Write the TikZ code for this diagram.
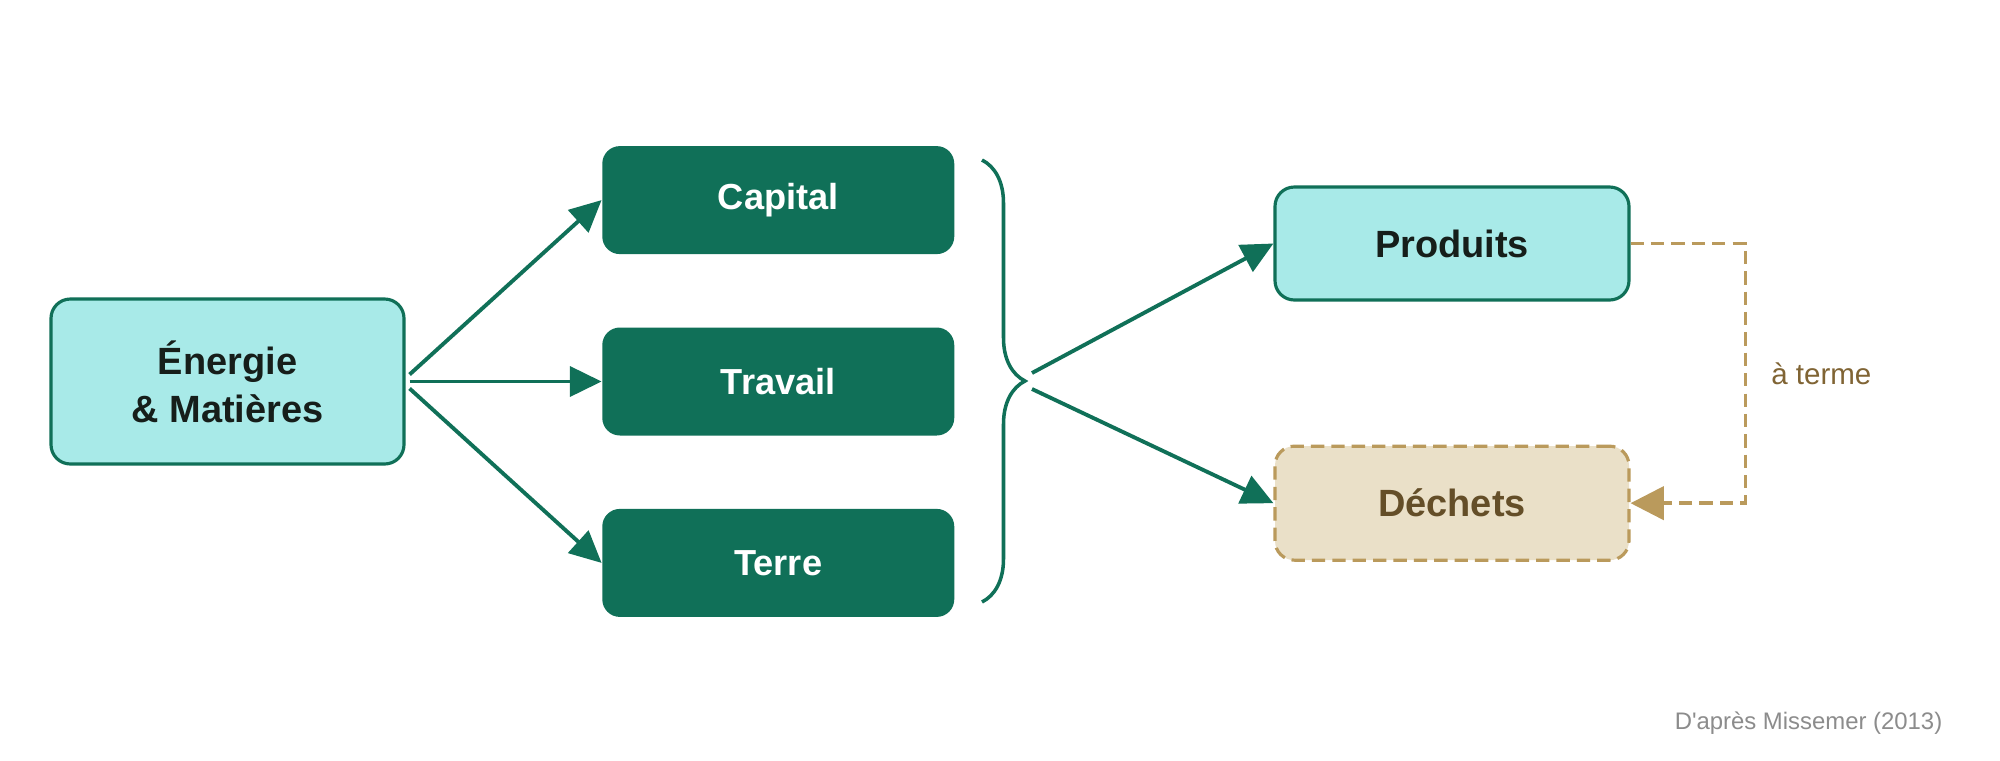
\documentclass[tikz,border=0pt]{standalone}
\usepackage{fontspec}
\setmainfont{Liberation Sans}
\newfontfamily\plainfont{Liberation Sans}
\usetikzlibrary{arrows.meta, positioning, decorations.pathreplacing}
\definecolor{colGreen}{RGB}{16,112,88}
\definecolor{colCyan}{RGB}{168,234,232}
\definecolor{colInk}{RGB}{22,30,26}
\definecolor{colSand}{RGB}{234,224,200}
\definecolor{colSandLine}{RGB}{186,154,92}
\definecolor{colSandInk}{RGB}{100,78,40}
\definecolor{colNote}{RGB}{128,100,52}
\definecolor{colSource}{RGB}{140,140,140}
\tikzset{
  inputBox/.style={
    rectangle, rounded corners=5.5pt,
    draw=colGreen, line width=0.9pt,
    fill=colCyan, text=colInk,
    font=\bfseries\fontsize{10.8}{13.7}\selectfont,
    align=center, inner sep=0pt
  },
  factorBox/.style={
    rectangle, rounded corners=5pt,
    fill=colGreen, text=white,
    font=\bfseries\fontsize{10.3}{12}\selectfont,
    inner sep=0pt, minimum width=35.2mm, minimum height=10.8mm
  },
  wasteBox/.style={
    rectangle, rounded corners=5.5pt,
    draw=colSandLine, line width=0.9pt, dash pattern=on 3.8pt off 2pt,
    fill=colSand, text=colSandInk,
    font=\bfseries\fontsize{10.8}{13.7}\selectfont,
    inner sep=0pt, minimum width=35.4mm, minimum height=11.4mm
  },
  arr/.style={
    -{Triangle[length=9pt, width=8.5pt]}, line width=1.1pt, color=colGreen
  },
  laterarr/.style={
    -{Triangle[length=9.5pt, width=9.5pt]}, line width=1pt, color=colSandLine,
    dash pattern=on 3.8pt off 2pt
  },
  note/.style={
    font=\fontsize{8.4}{10}\selectfont, text=colNote, inner sep=0pt
  },
  source/.style={
    font=\plainfont\fontsize{6.8}{8}\selectfont, text=colSource, inner sep=0pt
  }
}

\begin{document}
\begin{tikzpicture}[x=0.1mm, y=0.1mm]

  \path[fill=white, use as bounding box] (0,0) rectangle (2000,760);

  % inputs and production factors
  \node[inputBox, minimum width=35.3mm, minimum height=16.5mm] (energie) at (227.5,378.5) {Énergie\\\& Matières};
  \node[factorBox, right=19.6mm of energie] (travail) {Travail};
  \node[factorBox, above=7.2mm of travail] (capital) {Capital};
  \node[factorBox, below=7.2mm of travail] (terre) {Terre};

  % outputs
  \node[inputBox, minimum width=35.4mm, minimum height=11.3mm] (produits) at (1452,516.5) {Produits};
  \node[wasteBox, below=14.3mm of produits] (dechets) {Déchets};

  % energy and matter feed each factor
  \draw[arr] ([xshift=0.4mm, yshift=0.7mm]energie.east) -- (capital.west);
  \draw[arr] ([xshift=0.4mm]energie.east) -- (travail.west);
  \draw[arr] ([xshift=0.4mm, yshift=-0.7mm]energie.east) -- (terre.west);

  % brace grouping the factors
  \draw[colGreen, line width=1pt, decorate, decoration={brace, amplitude=4.3mm}] (982,600) -- (982,158);
  \coordinate (join) at (1032,379);

  \draw[arr] ([yshift=0.8mm]join) -- (produits.west);
  \draw[arr] ([yshift=-0.8mm]join) -- (dechets.west);

  % products eventually become waste
  \draw[laterarr] (produits.east) -- ++(115,0) |- node[note, pos=0.25, right=2.4mm] {à terme} (dechets.east);

  \node[source, anchor=east] (source) at (1943,37) {D'après Missemer (2013)};

\end{tikzpicture}
\end{document}
